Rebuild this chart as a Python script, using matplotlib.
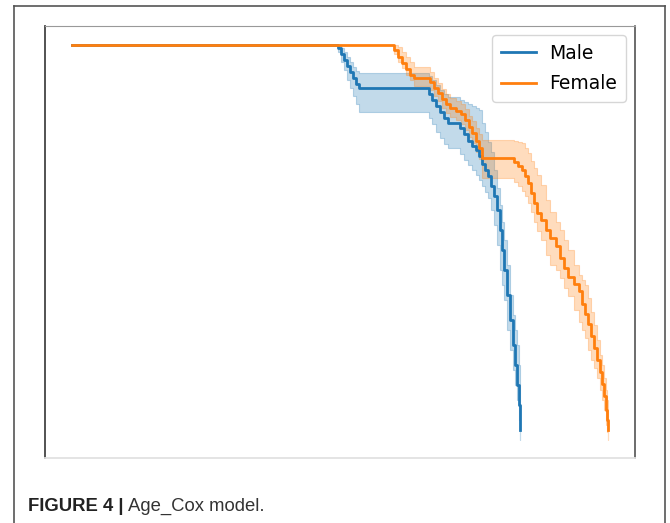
import numpy as np
import matplotlib
matplotlib.use("Agg")
import matplotlib.pyplot as plt
from matplotlib.lines import Line2D

# Kaplan-Meier style survival (percent)
male_t = [0, 266, 269, 272, 275, 278, 281, 284, 287, 357, 360, 364, 368, 372, 376,
          388, 392, 396, 400, 404, 407, 410, 413, 416, 419, 422, 425, 428, 430, 432,
          435, 438, 441, 443, 445, 447, 448]
male_s = [100, 99.25, 97.75, 96.25, 94.75, 93.25, 91.75, 90.25, 89.25, 87.75, 86.25,
          84.75, 83.25, 81.75, 80.5, 79.25, 77.75, 76, 74.75, 73.75, 72.25, 70.25,
          68.75, 67.25, 64.75, 62.25, 58.75, 53.75, 48.75, 43.75, 37.5, 31.25, 25,
          20, 15, 10, 3.75]
male_hi = [100, 100, 99.25, 98.25, 97, 95.75, 94.5, 93.5, 93, 92.25, 91.25, 90, 88.75,
           87.75, 87, 86.25, 85.75, 85.25, 84.75, 84.25, 83.75, 80.5, 78.25, 75.75,
           73.25, 68.75, 64.25, 60, 55.75, 51.25, 45, 37.5, 32.5, 28.75, 25, 20, 15]
male_lo = [100, 98.25, 95.75, 93.75, 91.25, 89.25, 87.25, 85.25, 83.25, 81.75, 80.25,
           78.25, 76.75, 75.25, 74.25, 72.75, 71.25, 70, 68.75, 67.5, 66.25, 64.75,
           63.25, 61.75, 58.75, 55, 50, 43.75, 40, 36.25, 28.75, 23.75, 18.75, 15,
           11.25, 6.25, 1.25]

female_t = [0, 322, 326, 330, 334, 338, 342, 358, 362, 366, 370, 374, 378, 384, 389,
            393, 397, 400, 404, 407, 410, 442, 446, 450, 453, 456, 459, 462, 465, 469,
            474, 478, 484, 488, 492, 496, 502, 507, 510, 513, 516, 519, 522, 525, 528,
            530, 532, 534, 535, 536]
female_s = [100, 98.75, 97, 95.5, 94, 92.5, 91.75, 90.75, 89.25, 88, 86.5, 85.25, 84.25,
            83.5, 82.75, 81.25, 79.5, 78, 76, 74.25, 71.75, 70.75, 69.75, 68.75, 67.25,
            65.5, 63, 60.5, 58, 56.25, 53.75, 51.75, 49.75, 46.75, 44.25, 42, 40.25,
            38.5, 35.25, 32.75, 30.25, 27.25, 24.25, 21.25, 18.25, 15.25, 12.25, 8.75,
            6.25, 3.75]
female_hi = [100, 100, 99.5, 98.25, 97, 95.75, 94.5, 93.25, 91.75, 90.5, 89, 87.75,
             86.75, 86, 85.25, 84, 82.25, 81, 79.25, 77.75, 76.25, 76, 75.75, 75.5,
             74.25, 73, 71, 69.25, 67.5, 65, 61.25, 58.25, 55.75, 53.75, 51.25, 48.75,
             45, 42.5, 41.25, 40, 36.75, 33.25, 30, 26.25, 22.5, 20, 16.75, 13.75,
             11.25, 8.75]
female_lo = [100, 97.75, 95.75, 94.25, 92.5, 91.25, 89.75, 88.75, 87.25, 86, 84.25, 83,
             82, 81.25, 80.25, 78.75, 77, 75.5, 73.25, 71.5, 66.75, 65.75, 64.75, 63.5,
             62.25, 60.5, 58.25, 55.75, 53.5, 51.25, 47.5, 45, 43.75, 41.75, 39.25,
             37.25, 33.75, 30.75, 28.75, 26.75, 23.75, 21.25, 19.25, 16.75, 13.75,
             11.25, 8.75, 5, 3.25, 1.25]

BLUE = "#1f77b4"
ORANGE = "#ff7f0e"

fig = plt.figure(figsize=(6.7, 5.23), dpi=100, facecolor="white")
ax = fig.add_axes([45 / 670, 65 / 523, 590 / 670, 432 / 523])

series = [("Male", male_t, male_s, male_lo, male_hi, BLUE),
          ("Female", female_t, female_s, female_lo, female_hi, ORANGE)]
for name, t, s, lo, hi, col in series:
    ax.fill_between(t, lo, hi, step="post", color=col, alpha=0.27, linewidth=0.8,
                    edgecolor=col)
    ax.plot(t, s, drawstyle="steps-post", color=col, linewidth=2.0, label=name)

ax.set_xlim(-27, 563)
ax.set_ylim(-3.25, 104.75)
ax.set_xticks([])
ax.set_yticks([])

# frame as it appears in the scan
ax.spines["left"].set_color("#444444")
ax.spines["left"].set_linewidth(1.3)
ax.spines["top"].set_color("#999999")
ax.spines["right"].set_color("#444444")
ax.spines["right"].set_linewidth(1.1)
ax.spines["bottom"].set_color("#e2e2e2")
ax.spines["bottom"].set_linewidth(1.3)

leg = ax.legend(loc="upper right", fontsize=13.5, frameon=True, handlelength=1.9,
                borderpad=0.45, labelspacing=0.6, handletextpad=0.7,
                borderaxespad=0.5)
leg.get_frame().set_edgecolor("#cccccc")

# page frame around the figure
fx = lambda px: px / 670
fy = lambda py: 1 - py / 523
fr = dict(color="#555555", linewidth=1.2, transform=fig.transFigure)
fig.add_artist(Line2D([fx(14), fx(14)], [fy(6), 0], **fr))
fig.add_artist(Line2D([fx(14), fx(665)], [fy(6), fy(6)], **fr))
fig.add_artist(Line2D([fx(665), fx(665)], [fy(6), 0], **fr))

# caption
cap_font = ["Liberation Sans", "DejaVu Sans"]
t1 = fig.text(fx(28), fy(511), "FIGURE 4 |", fontsize=13.3, fontweight="bold",
              family=cap_font, color="#222222", va="baseline")
fig.canvas.draw()
bb = t1.get_window_extent(fig.canvas.get_renderer())
fig.text(bb.x1 / 670 + 0.007, fy(511), "Age_Cox model.", fontsize=13.3,
         family=cap_font, color="#333333", va="baseline")

fig.savefig("out.png", dpi=100, facecolor="white")
